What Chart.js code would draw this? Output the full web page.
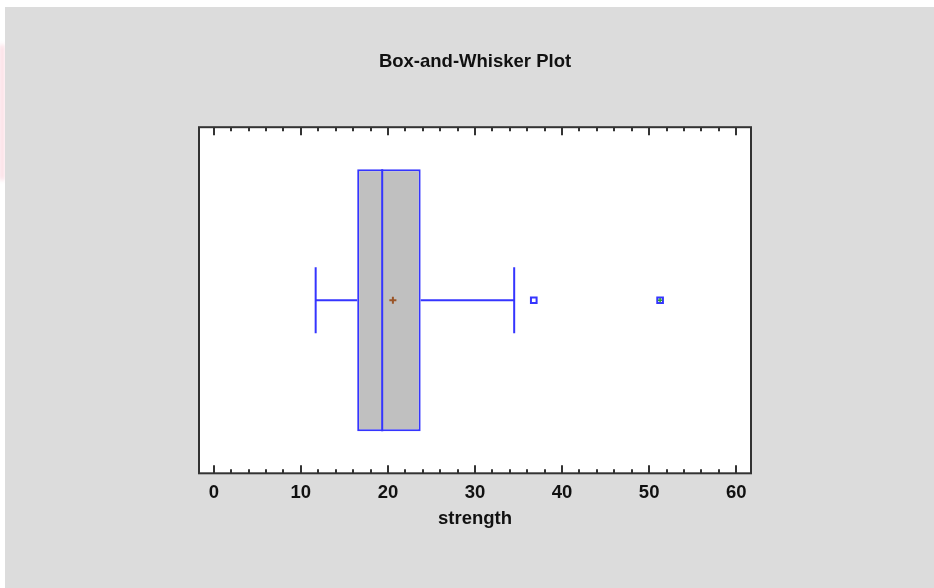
<!DOCTYPE html>
<html>
<head>
<meta charset="utf-8">
<script src="https://cdn.jsdelivr.net/npm/chart.js@4.4.1/dist/chart.umd.min.js"></script>
<style>
  html, body { margin: 0; padding: 0; background: #ffffff; width: 934px; height: 588px; overflow: hidden; }
  #pink { position: absolute; left: 0; top: 45px; width: 6px; height: 135px;
          background: linear-gradient(to right, rgba(250,195,208,0.85), rgba(250,215,222,0.2)); filter: blur(2px); }
  #panel { position: absolute; left: 5px; top: 7px; width: 929px; height: 581px; background: #dcdcdc; }
  canvas { display: block; }
</style>
</head>
<body>
<div id="pink"></div>
<div id="panel"><canvas id="c" width="929" height="581"></canvas></div>
<script>
// ---- data ----
const categories = ['strength'];
const boxQuartiles = [16.47, 23.76];   // lower quartile, upper quartile
const medianValue = [19.34];
const meanValue = [20.57];
const whiskerEnds = [11.7, 34.5];      // lower whisker, upper whisker
const outlierValues = [36.75];
const farOutlierValues = [51.26];
const xTickValues = [0, 10, 20, 30, 40, 50, 60];
const xMinorStep = 2;

const BLUE = '#3535ff';
const BOX_HALF = 0.757;
const CAP_HALF = 0.19;
const FONT = "'Liberation Sans', Arial, sans-serif";

const framePlugin = {
  id: 'frame',
  beforeDraw(chart) {
    const a = chart.chartArea, ctx = chart.ctx;
    ctx.save();
    ctx.fillStyle = '#ffffff';
    ctx.fillRect(a.left, a.top, a.right - a.left, a.bottom - a.top);
    ctx.restore();
  },
  afterDatasetsDraw(chart) {
    const a = chart.chartArea, ctx = chart.ctx, xs = chart.scales.x;
    ctx.save();
    ctx.strokeStyle = '#333333';
    ctx.lineWidth = 2;
    ctx.strokeRect(a.left, a.top, a.right - a.left, a.bottom - a.top);
    const start = Math.ceil(xs.min / xMinorStep) * xMinorStep;
    for (let v = start; v <= xs.max + 1e-9; v += xMinorStep) {
      const px = Math.round(xs.getPixelForValue(v));
      const major = xTickValues.includes(Math.round(v));
      const len = major ? 8 : 4;
      ctx.beginPath();
      ctx.moveTo(px, a.bottom); ctx.lineTo(px, a.bottom - len);
      ctx.moveTo(px, a.top); ctx.lineTo(px, a.top + len);
      ctx.stroke();
    }
    ctx.restore();
  }
};

const lineStyle = { type: 'line', xAxisID: 'x', yAxisID: 'y2', borderColor: BLUE, borderWidth: 2,
                    pointRadius: 0, fill: false, tension: 0, order: 0 };

new Chart(document.getElementById('c'), {
  type: 'bar',
  data: {
    labels: categories,
    datasets: [
      Object.assign({}, lineStyle, { data: [{x: medianValue[0], y: -BOX_HALF}, {x: medianValue[0], y: BOX_HALF}] }),
      Object.assign({}, lineStyle, { data: [{x: whiskerEnds[0], y: 0}, {x: boxQuartiles[0], y: 0}] }),
      Object.assign({}, lineStyle, { data: [{x: boxQuartiles[1], y: 0}, {x: whiskerEnds[1], y: 0}] }),
      Object.assign({}, lineStyle, { data: [{x: whiskerEnds[0], y: -CAP_HALF}, {x: whiskerEnds[0], y: CAP_HALF}] }),
      Object.assign({}, lineStyle, { data: [{x: whiskerEnds[1], y: -CAP_HALF}, {x: whiskerEnds[1], y: CAP_HALF}] }),
      { type: 'line', xAxisID: 'x', yAxisID: 'y2', showLine: false, order: 0,
        data: meanValue.map(v => ({x: v, y: 0})),
        pointStyle: 'cross', pointRadius: 3.5, pointBorderColor: '#9a5528', pointBorderWidth: 2 },
      { type: 'line', xAxisID: 'x', yAxisID: 'y2', showLine: false, order: 0,
        data: farOutlierValues.map(v => ({x: v, y: 0})),
        pointStyle: 'cross', pointRadius: 2.2, pointBorderColor: '#2e9e2e', pointBorderWidth: 1.5 },
      { type: 'line', xAxisID: 'x', yAxisID: 'y2', showLine: false, order: 1,
        data: outlierValues.concat(farOutlierValues).map(v => ({x: v, y: 0})),
        pointStyle: 'rect', pointRadius: 4, pointBorderColor: BLUE, pointBackgroundColor: '#ffffff',
        pointBorderWidth: 2 },
      { type: 'bar', indexAxis: 'y', xAxisID: 'x', yAxisID: 'y', order: 10,
        data: [boxQuartiles.slice()],
        backgroundColor: '#c0c0c0', borderColor: BLUE, borderWidth: 2, borderSkipped: false,
        categoryPercentage: 1, barPercentage: 0.757 }
    ]
  },
  options: {
    responsive: false,
    animation: false,
    events: [],
    layout: { padding: { left: 194, right: 183, top: 0, bottom: 58 } },
    plugins: {
      legend: { display: false },
      tooltip: { enabled: false },
      title: {
        display: true, text: 'Box-and-Whisker Plot', fullSize: false,
        color: '#111111', font: { family: FONT, size: 18.5, weight: 'bold' },
        padding: { top: 44, bottom: 54 }
      }
    },
    scales: {
      x: {
        type: 'linear', position: 'bottom', min: -1.7, max: 61.7, offset: false,
        grid: { display: false, drawTicks: false, offset: false },
        border: { display: false },
        ticks: {
          stepSize: 10, includeBounds: false, padding: 10, color: '#111111',
          font: { family: FONT, size: 18.5, weight: 'bold', lineHeight: 1.0 },
          callback: v => xTickValues.includes(v) ? String(v) : ''
        },
        title: { display: true, text: 'strength', color: '#111111',
                 font: { family: FONT, size: 18.5, weight: 'bold' }, padding: { top: -4, bottom: 0 } }
      },
      y: { type: 'category', display: false, offset: true },
      y2: { type: 'linear', display: false, min: -1, max: 1, position: 'right', offset: false }
    }
  },
  plugins: [framePlugin]
});
</script>
</body>
</html>
